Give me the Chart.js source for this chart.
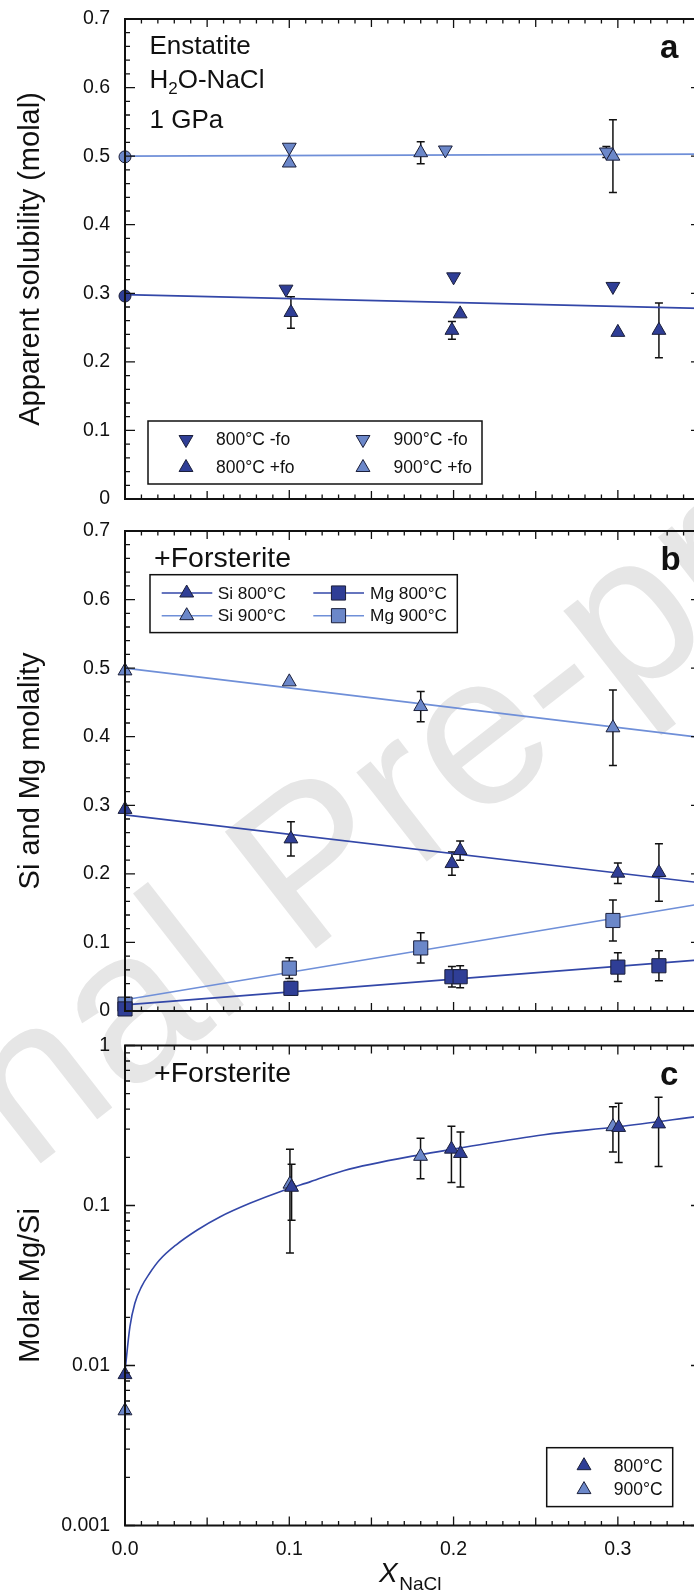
<!DOCTYPE html>
<html>
<head>
<meta charset="utf-8">
<script src="https://cdn.jsdelivr.net/npm/chart.js@4.4.1/dist/chart.umd.min.js"></script>
<style>
  html, body { margin: 0; padding: 0; background: #fff; width: 694px; height: 1596px; overflow: hidden; }
  canvas { position: absolute; left: 0; }
  #wm { position: absolute; left: 308px; top: 860px; transform: translate(-50%, -50%) rotate(-38deg);
        font: 215px "Liberation Sans", Arial, sans-serif; color: #e6e6e6; white-space: nowrap; line-height: 1; }
</style>
</head>
<body>
<div id="wm">Journal Pre-proof</div>
<canvas id="chartA" width="710" height="512" style="top:0px"></canvas>
<canvas id="chartB" width="710" height="512" style="top:512px"></canvas>
<canvas id="chartC" width="710" height="570" style="top:1026px"></canvas>
<script>
// ---- axes ----
const xTickValues = [0, 0.1, 0.2, 0.3];
const xTickLabels = ['0.0', '0.1', '0.2', '0.3'];
const yLinValues = [0, 0.1, 0.2, 0.3, 0.4, 0.5, 0.6, 0.7];
const yLinLabels = ['0', '0.1', '0.2', '0.3', '0.4', '0.5', '0.6', '0.7'];
const yLogValues = [0.001, 0.01, 0.1, 1];
const yLogLabels = ['0.001', '0.01', '0.1', '1'];
const fitX = [0, 0.35];

// ---- panel a: apparent enstatite solubility (molal) ----
const a800MinusX = [0.098, 0.200, 0.297];
const a800MinusY = [0.306, 0.324, 0.310];
const a800PlusX = [0.101, 0.199, 0.204, 0.300, 0.325];
const a800PlusY = [0.272, 0.246, 0.270, 0.243, 0.246];
const a800PlusErr = [0.023, 0.013, 0, 0, 0.040];
const a900MinusX = [0.100, 0.195, 0.293];
const a900MinusY = [0.513, 0.509, 0.506];
const a900MinusErr = [0, 0, 0.008];
const a900PlusX = [0.100, 0.180, 0.297];
const a900PlusY = [0.490, 0.505, 0.500];
const a900PlusErr = [0, 0.016, 0.053];
const aPureX = [0];
const a800PureY = [0.296];
const a900PureY = [0.499];
const a800Fit = [0.298, 0.278];
const a900Fit = [0.500, 0.503];

// ---- panel b: Si and Mg molality (+forsterite) ----
const bSi800X = [0, 0.101, 0.199, 0.204, 0.300, 0.325];
const bSi800Y = [0.294, 0.251, 0.215, 0.234, 0.201, 0.202];
const bSi800Err = [0, 0.025, 0.017, 0.014, 0.015, 0.042];
const bSi900X = [0, 0.100, 0.180, 0.297];
const bSi900Y = [0.496, 0.480, 0.444, 0.413];
const bSi900Err = [0, 0, 0.022, 0.055];
const bMg800X = [0, 0.101, 0.199, 0.204, 0.300, 0.325];
const bMg800Y = [0.003, 0.033, 0.050, 0.050, 0.064, 0.066];
const bMg800Err = [0, 0.010, 0.015, 0.016, 0.021, 0.022];
const bMg900X = [0, 0.100, 0.180, 0.297];
const bMg900Y = [0.010, 0.0625, 0.092, 0.132];
const bMg900Err = [0, 0.015, 0.022, 0.030];
const bSi800Fit = [0.286, 0.187];
const bSi900Fit = [0.500, 0.399];
const bMg800Fit = [0.009, 0.0745];
const bMg900Fit = [0.0165, 0.156];

// ---- panel c: molar Mg/Si ----
const c800X = [0, 0.1014, 0.1987, 0.2042, 0.3005, 0.3248];
const c800Y = [0.00877, 0.130, 0.225, 0.2115, 0.3076, 0.3236];
const c800Lo = [null, 0.081, 0.139, 0.1305, 0.186, 0.1755];
const c800Hi = [null, 0.181, 0.313, 0.2875, 0.435, 0.4756];
const c900X = [0, 0.1004, 0.1799, 0.2970];
const c900Y = [0.00521, 0.136, 0.203, 0.311];
const c900Lo = [null, 0.0505, 0.147, 0.216];
const c900Hi = [null, 0.225, 0.263, 0.4135];
const cCurveX = [0, 0.003, 0.006, 0.010, 0.015, 0.021, 0.031, 0.044, 0.058, 0.076, 0.096, 0.113, 0.133, 0.180, 0.200, 0.255, 0.300, 0.350];
const cCurveY = [0.0092, 0.0175, 0.0245, 0.031, 0.0377, 0.0456, 0.0566, 0.0703, 0.0851, 0.1032, 0.1238, 0.141, 0.165, 0.208, 0.225, 0.277, 0.3105, 0.362];

// ---- styles ----
const FONT = '"Liberation Sans", Arial, Helvetica, sans-serif';
const INK = '#111';
const DARK = '#2f3e96';
const LIGHT = '#6b87c9';
const DARK_LINE = '#3347a8';
const LIGHT_LINE = '#6f8fd8';
const EDGE = '#1b1f3a';

Chart.defaults.font.family = FONT;
Chart.defaults.color = INK;

function pts(xs, ys) {
  return xs.map((x, i) => ({x: x, y: ys[i]}));
}
function lowOf(ys, errs) { return ys.map((y, i) => errs[i] ? y - errs[i] : null); }
function highOf(ys, errs) { return ys.map((y, i) => errs[i] ? y + errs[i] : null); }

function markers(label, xs, ys, fill, style, rot, r, lo, hi) {
  return {
    label: label, data: pts(xs, ys), showLine: false,
    pointStyle: style, pointRotation: rot, pointRadius: r, pointHoverRadius: r,
    pointBackgroundColor: fill, pointBorderColor: EDGE, pointBorderWidth: 1,
    clip: false, order: 1, errLo: lo, errHi: hi
  };
}
function fitLine(label, xs, ys, color, smooth) {
  return {
    label: label, data: pts(xs, ys), showLine: true, pointRadius: 0,
    borderColor: color, borderWidth: 1.6,
    cubicInterpolationMode: smooth ? 'monotone' : 'default',
    clip: false, order: 2
  };
}

function drawMarker(ctx, style, x, y, r, rot, fill) {
  ctx.save();
  ctx.fillStyle = fill; ctx.strokeStyle = EDGE; ctx.lineWidth = 1;
  ctx.beginPath();
  if (style === 'triangle') {
    let a = rot * Math.PI / 180;
    for (let k = 0; k < 3; k++) {
      const px = x + Math.sin(a) * r, py = y - Math.cos(a) * r;
      if (k) ctx.lineTo(px, py); else ctx.moveTo(px, py);
      a += 2 * Math.PI / 3;
    }
    ctx.closePath();
  } else if (style === 'rect') {
    const s = r * Math.SQRT1_2;
    ctx.rect(x - s, y - s, 2 * s, 2 * s);
  } else {
    ctx.arc(x, y, r, 0, 2 * Math.PI);
  }
  ctx.fill(); ctx.stroke();
  ctx.restore();
}

// error bars under the markers
const errorBars = {
  id: 'errorBars',
  beforeDatasetsDraw(chart) {
    const {ctx} = chart;
    const xs = chart.scales.x, ys = chart.scales.y;
    ctx.save();
    ctx.strokeStyle = INK; ctx.lineWidth = 1.5;
    chart.data.datasets.forEach(ds => {
      if (!ds.errLo) return;
      ds.data.forEach((p, i) => {
        const lo = ds.errLo[i], hi = ds.errHi[i];
        if (lo == null || hi == null) return;
        const px = xs.getPixelForValue(p.x);
        const y1 = ys.getPixelForValue(lo), y2 = ys.getPixelForValue(hi);
        ctx.beginPath();
        ctx.moveTo(px, y1); ctx.lineTo(px, y2);
        ctx.moveTo(px - 4, y1); ctx.lineTo(px + 4, y1);
        ctx.moveTo(px - 4, y2); ctx.lineTo(px + 4, y2);
        ctx.stroke();
      });
    });
    ctx.restore();
  }
};

// box frame with inward ticks on all four sides
function framePlugin(logY) {
  return {
    id: 'frame',
    afterDraw(chart) {
      const {ctx, chartArea: ca} = chart;
      const xs = chart.scales.x, ys = chart.scales.y;
      ctx.save();
      ctx.strokeStyle = INK; ctx.lineWidth = 1.3;
      ctx.beginPath();
      for (let i = 0; i <= 35; i++) {
        const px = xs.getPixelForValue(i / 100);
        const len = i % 10 === 0 ? 9 : (i % 5 === 0 ? 8 : 4.5);
        ctx.moveTo(px, ca.top); ctx.lineTo(px, ca.top + len);
        ctx.moveTo(px, ca.bottom); ctx.lineTo(px, ca.bottom - len);
      }
      const yt = [];
      if (logY) {
        for (let d = -3; d < 0; d++) {
          for (let m = 1; m <= 9; m++) yt.push({v: m * Math.pow(10, d), major: m === 1});
        }
        yt.push({v: 1, major: true});
      } else {
        for (let i = 0; i <= 35; i++) yt.push({v: i * 0.02, major: i % 5 === 0});
      }
      yt.forEach(t => {
        const py = ys.getPixelForValue(t.v);
        ctx.moveTo(ca.left, py); ctx.lineTo(ca.left + (t.major ? 10 : 5), py);
        if (t.major) { ctx.moveTo(ca.right, py); ctx.lineTo(ca.right - 9, py); }
      });
      ctx.stroke();
      ctx.lineWidth = 2;
      ctx.strokeRect(ca.left, ca.top, ca.right - ca.left, ca.bottom - ca.top);
      ctx.restore();
    }
  };
}

function textPlugin(items) {
  return {
    id: 'texts',
    afterDraw(chart) {
      const ctx = chart.ctx;
      ctx.save();
      ctx.fillStyle = INK; ctx.textBaseline = 'alphabetic'; ctx.textAlign = 'left';
      items.forEach(it => {
        let x = it.x;
        it.parts.forEach(p => {
          ctx.font = (p.style || '') + ' ' + p.size + 'px ' + FONT;
          ctx.fillText(p.t, x, it.y + (p.dy || 0));
          x += ctx.measureText(p.t).width + (p.gap || 0);
        });
      });
      ctx.restore();
    }
  };
}

function legendPlugin(box, entries, font) {
  return {
    id: 'legendBox',
    afterDraw(chart) {
      const ctx = chart.ctx;
      const dsets = chart.data.datasets;
      ctx.save();
      ctx.fillStyle = '#fff';
      ctx.fillRect(box[0], box[1], box[2], box[3]);
      ctx.strokeStyle = INK; ctx.lineWidth = 1.5;
      ctx.strokeRect(box[0], box[1], box[2], box[3]);
      entries.forEach(e => {
        const ds = dsets[e.ds];
        if (e.line) {
          const lds = dsets[e.line.ds];
          ctx.strokeStyle = lds.borderColor; ctx.lineWidth = 1.6;
          ctx.beginPath(); ctx.moveTo(e.line.x0, e.y); ctx.lineTo(e.line.x1, e.y); ctx.stroke();
        }
        drawMarker(ctx, ds.pointStyle, e.mx, e.y, ds.pointRadius, ds.pointRotation, ds.pointBackgroundColor);
        ctx.fillStyle = INK;
        ctx.font = font + 'px ' + FONT;
        ctx.textBaseline = 'middle';
        ctx.textAlign = e.align || 'left';
        ctx.fillText(ds.label, e.tx, e.y + 1);
      });
      ctx.restore();
    }
  };
}

// tick labels are pushed off the axis with tickLength (grid hidden) so that
// the layout does not add label padding to the chart area
function yAxis(type, title, values, labels, min, max) {
  return {
    type: type, min: min, max: max, position: 'left',
    grid: {display: false, drawTicks: true, tickLength: 15}, border: {display: false},
    afterBuildTicks: s => { s.ticks = values.map(v => ({value: v})); },
    ticks: {padding: 0, color: INK, font: {family: FONT, size: 19.5}, callback: (v, i) => labels[i]},
    title: {display: true, text: title, color: INK, font: {family: FONT, size: 29}, padding: {top: 14, bottom: 0}},
    afterFit: s => { s.width = 125; }
  };
}
function xAxis(show) {
  return {
    type: 'linear', min: 0, max: 0.35, display: show,
    grid: {display: false, drawTicks: true, tickLength: 12}, border: {display: false},
    afterBuildTicks: s => { s.ticks = xTickValues.map(v => ({value: v})); },
    ticks: {padding: 0, maxRotation: 0, autoSkip: false, color: INK, font: {family: FONT, size: 19.5},
            callback: (v, i) => xTickLabels[i]},
    afterFit: s => { s.height = show ? 70.5 : 0; }
  };
}
function options(yCfg, showX, padTop, padBottom) {
  return {
    responsive: false, animation: false, events: [],
    layout: {autoPadding: false, padding: {top: padTop, right: 10, bottom: padBottom, left: 0}},
    plugins: {legend: {display: false}, tooltip: {enabled: false}},
    scales: {x: xAxis(showX), y: yCfg}
  };
}

// ---- panel a ----
new Chart(document.getElementById('chartA'), {
  type: 'scatter',
  data: {
    datasets: [
      markers('800°C -fo', a800MinusX, a800MinusY, DARK, 'triangle', 180, 8),
      markers('800°C +fo', a800PlusX, a800PlusY, DARK, 'triangle', 0, 8, lowOf(a800PlusY, a800PlusErr), highOf(a800PlusY, a800PlusErr)),
      markers('900°C -fo', a900MinusX, a900MinusY, LIGHT, 'triangle', 180, 8, lowOf(a900MinusY, a900MinusErr), highOf(a900MinusY, a900MinusErr)),
      markers('900°C +fo', a900PlusX, a900PlusY, LIGHT, 'triangle', 0, 8, lowOf(a900PlusY, a900PlusErr), highOf(a900PlusY, a900PlusErr)),
      markers('800°C H2O', aPureX, a800PureY, DARK, 'circle', 0, 6),
      markers('900°C H2O', aPureX, a900PureY, LIGHT, 'circle', 0, 6),
      fitLine('fit 800°C', fitX, a800Fit, DARK_LINE),
      fitLine('fit 900°C', fitX, a900Fit, LIGHT_LINE)
    ]
  },
  options: options(yAxis('linear', 'Apparent solubility (molal)', yLinValues, yLinLabels, 0, 0.7), false, 19, 13),
  plugins: [
    errorBars, framePlugin(false),
    textPlugin([
      {x: 149.5, y: 54, parts: [{t: 'Enstatite', size: 26}]},
      {x: 149.5, y: 87.5, parts: [{t: 'H', size: 26}, {t: '2', size: 17, dy: 6}, {t: 'O-NaCl', size: 26}]},
      {x: 149.5, y: 127.5, parts: [{t: '1 GPa', size: 26}]},
      {x: 660, y: 58.3, parts: [{t: 'a', size: 33, style: 'bold'}]}
    ]),
    legendPlugin([148, 421, 334, 63], [
      {ds: 0, mx: 186, tx: 216, y: 439.5},
      {ds: 1, mx: 186, tx: 216, y: 467.5},
      {ds: 2, mx: 363, tx: 393.5, y: 439.5},
      {ds: 3, mx: 363, tx: 393.5, y: 467.5}
    ], 17.5)
  ]
});

// ---- panel b ----
new Chart(document.getElementById('chartB'), {
  type: 'scatter',
  data: {
    datasets: [
      markers('Si 800°C', bSi800X, bSi800Y, DARK, 'triangle', 0, 8, lowOf(bSi800Y, bSi800Err), highOf(bSi800Y, bSi800Err)),
      markers('Si 900°C', bSi900X, bSi900Y, LIGHT, 'triangle', 0, 8, lowOf(bSi900Y, bSi900Err), highOf(bSi900Y, bSi900Err)),
      markers('Mg 800°C', bMg800X, bMg800Y, DARK, 'rect', 0, 10, lowOf(bMg800Y, bMg800Err), highOf(bMg800Y, bMg800Err)),
      markers('Mg 900°C', bMg900X, bMg900Y, LIGHT, 'rect', 0, 10, lowOf(bMg900Y, bMg900Err), highOf(bMg900Y, bMg900Err)),
      fitLine('Si 800°C fit', fitX, bSi800Fit, DARK_LINE),
      fitLine('Si 900°C fit', fitX, bSi900Fit, LIGHT_LINE),
      fitLine('Mg 800°C fit', fitX, bMg800Fit, DARK_LINE),
      fitLine('Mg 900°C fit', fitX, bMg900Fit, LIGHT_LINE)
    ]
  },
  options: options(yAxis('linear', 'Si and Mg molality', yLinValues, yLinLabels, 0, 0.7), false, 19, 13),
  plugins: [
    errorBars, framePlugin(false),
    textPlugin([
      {x: 154, y: 54.6, parts: [{t: '+Forsterite', size: 28.5}]},
      {x: 660.5, y: 58.2, parts: [{t: 'b', size: 33, style: 'bold'}]}
    ]),
    legendPlugin([150, 62.7, 307.3, 57.9], [
      {ds: 0, mx: 186.7, tx: 217.7, y: 81, line: {ds: 4, x0: 161.7, x1: 212.3}},
      {ds: 1, mx: 186.7, tx: 217.7, y: 103.7, line: {ds: 5, x0: 161.7, x1: 212.3}},
      {ds: 2, mx: 338.5, tx: 370, y: 81, line: {ds: 6, x0: 313.3, x1: 364}},
      {ds: 3, mx: 338.5, tx: 370, y: 103.7, line: {ds: 7, x0: 313.3, x1: 364}}
    ], 17.3)
  ]
});

// ---- panel c ----
new Chart(document.getElementById('chartC'), {
  type: 'scatter',
  data: {
    datasets: [
      markers('800°C', c800X, c800Y, DARK, 'triangle', 0, 8, c800Lo, c800Hi),
      markers('900°C', c900X, c900Y, LIGHT, 'triangle', 0, 8, c900Lo, c900Hi),
      fitLine('Mg/Si fit', cCurveX, cCurveY, DARK_LINE, true)
    ]
  },
  options: options(yAxis('logarithmic', 'Molar Mg/Si', yLogValues, yLogLabels, 0.001, 1), true, 19.5, 0),
  plugins: [
    errorBars, framePlugin(true),
    textPlugin([
      {x: 154, y: 55.6, parts: [{t: '+Forsterite', size: 28.5}]},
      {x: 660, y: 59, parts: [{t: 'c', size: 33, style: 'bold'}]},
      {x: 379, y: 556.4, parts: [{t: 'X', size: 28, style: 'italic', gap: 1.5}, {t: 'NaCl', size: 19, dy: 7.2}]}
    ]),
    legendPlugin([546.7, 421.7, 126, 58.9], [
      {ds: 0, mx: 584, tx: 662.7, y: 439.7, align: 'right'},
      {ds: 1, mx: 584, tx: 662.7, y: 463.6, align: 'right'}
    ], 17.5)
  ]
});
</script>
</body>
</html>
